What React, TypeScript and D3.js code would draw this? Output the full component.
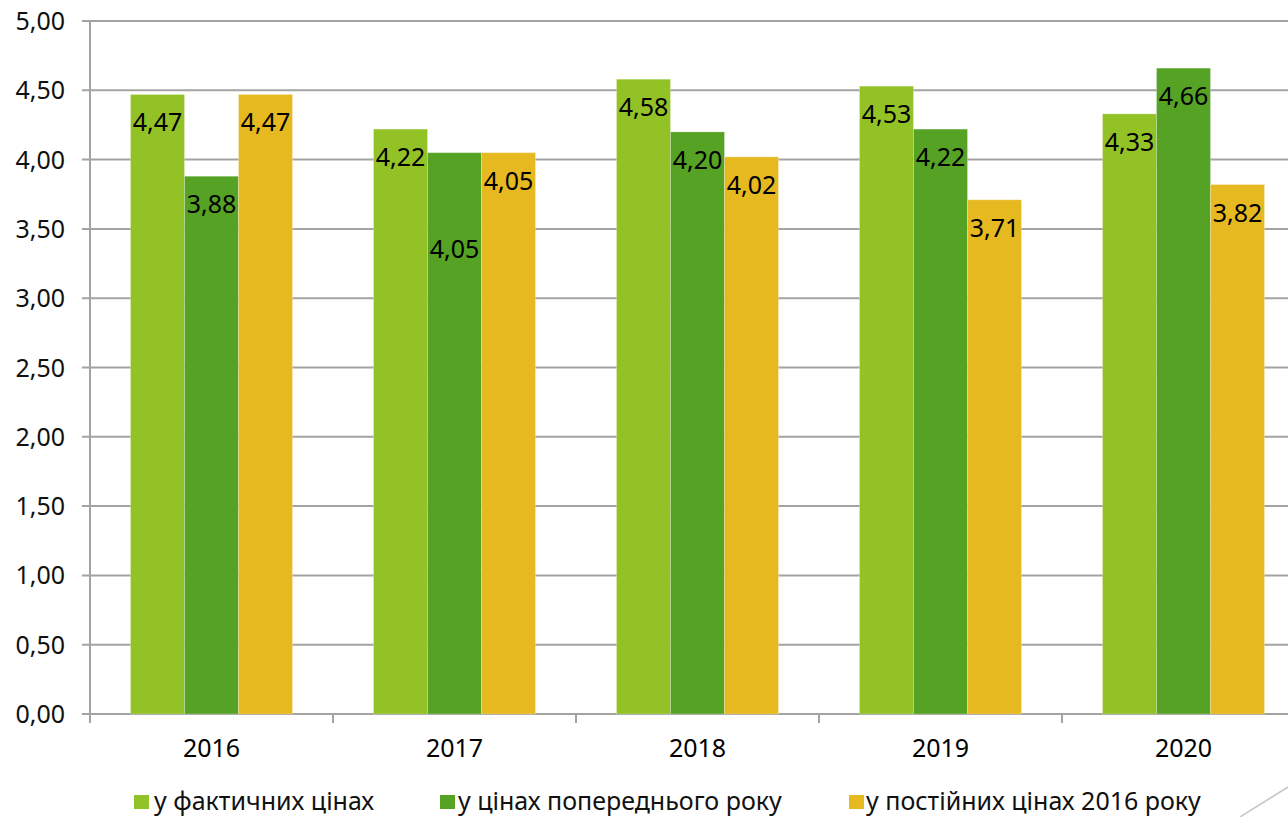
import React from "react";
import * as d3 from "d3";

// Annual values by price basis
const years = ["2016", "2017", "2018", "2019", "2020"];
const seriesNames = [
  "у фактичних цінах",
  "у цінах попереднього року",
  "у постійних цінах 2016 року",
];
const actualPrices = [4.47, 4.22, 4.58, 4.53, 4.33];
const previousYearPrices = [3.88, 4.05, 4.2, 4.22, 4.66];
const constant2016Prices = [4.47, 4.05, 4.02, 3.71, 3.82];
const yTicks = [0, 0.5, 1, 1.5, 2, 2.5, 3, 3.5, 4, 4.5, 5];

const seriesValues = [actualPrices, previousYearPrices, constant2016Prices];
const seriesColors = ["#93C227", "#55A224", "#E6B920"];

const W = 1288;
const H = 817;
const FONT = "'Noto Sans', sans-serif";

export default function App() {
  const plotLeft = 90;
  const plotTop = 21;
  const plotBottom = 714;
  const band = 243;

  // the plot area runs slightly past the right edge of the canvas
  const x = d3
    .scaleBand<string>()
    .domain(years)
    .range([plotLeft, plotLeft + band * years.length])
    .paddingInner(0)
    .paddingOuter(0);

  const y = d3.scaleLinear().domain([0, 5]).range([plotBottom, plotTop]);

  // clustered bars with a gap of 150% of one bar width
  const barW = x.bandwidth() / (seriesValues.length + 1.5);
  const groupOffset = (x.bandwidth() - barW * seriesValues.length) / 2;
  const inner = d3
    .scaleBand<number>()
    .domain(d3.range(seriesValues.length))
    .range([groupOffset, groupOffset + barW * seriesValues.length]);

  const fmt = (v: number) => v.toFixed(2).replace(".", ",");
  const labelDrop = 28;
  // one label in 2017 sits lower inside its bar
  const loweredLabel = { year: "2017", series: 1, extra: 68 };

  const gridColor = "#A3A3A3";

  const legendItems = [
    { sq: 134, tx: 154 },
    { sq: 440, tx: 458 },
    { sq: 849, tx: 866 },
  ];

  return (
    <svg
      width={W}
      height={H}
      style={{ position: "absolute", left: 0, top: 0, background: "#fff" }}
      fontFamily={FONT}
    >
      {/* gridlines and y ticks */}
      {yTicks.map((t) => (
        <g key={t}>
          <line
            x1={plotLeft - 8}
            x2={W}
            y1={y(t)}
            y2={y(t)}
            stroke={gridColor}
            strokeWidth={2}
          />
          <text
            x={65}
            y={y(t)}
            dy="0.36em"
            textAnchor="end"
            fontSize={25}
            fill="#111"
          >
            {fmt(t)}
          </text>
        </g>
      ))}
      {/* y axis */}
      <line
        x1={plotLeft}
        x2={plotLeft}
        y1={plotTop}
        y2={plotBottom + 9}
        stroke={gridColor}
        strokeWidth={2}
      />
      {/* category ticks */}
      {years.map((yr) => (
        <line
          key={"t" + yr}
          x1={(x(yr) as number) + band}
          x2={(x(yr) as number) + band}
          y1={plotBottom}
          y2={plotBottom + 9}
          stroke={gridColor}
          strokeWidth={2}
        />
      ))}
      {/* bars */}
      {seriesValues.map((vals, si) =>
        years.map((yr, i) => {
          const bx = (x(yr) as number) + (inner(si) as number);
          const by = y(vals[i]);
          return (
            <rect
              key={si + "-" + yr}
              x={bx}
              y={by}
              width={inner.bandwidth()}
              height={plotBottom - by}
              fill={seriesColors[si]}
              stroke="rgba(255,255,255,0.25)"
              strokeWidth={1}
            />
          );
        })
      )}
      {/* value labels */}
      {seriesValues.map((vals, si) =>
        years.map((yr, i) => {
          const bx = (x(yr) as number) + (inner(si) as number) + inner.bandwidth() / 2;
          const extra =
            loweredLabel.year === yr && loweredLabel.series === si
              ? loweredLabel.extra
              : 0;
          return (
            <text
              key={"l" + si + "-" + yr}
              x={bx}
              y={y(vals[i]) + labelDrop + extra}
              dy="0.36em"
              textAnchor="middle"
              fontSize={25}
              fill="#000"
            >
              {fmt(vals[i])}
            </text>
          );
        })
      )}
      {/* x labels */}
      {years.map((yr) => (
        <text
          key={"x" + yr}
          x={(x(yr) as number) + band / 2}
          y={757}
          textAnchor="middle"
          fontSize={25}
          fill="#000"
        >
          {yr}
        </text>
      ))}
      {/* legend */}
      {seriesNames.map((name, si) => (
        <g key={"lg" + si}>
          <rect
            x={legendItems[si].sq}
            y={795}
            width={15}
            height={14}
            fill={seriesColors[si]}
          />
          <text x={legendItems[si].tx} y={810} fontSize={25} fill="#111">
            {name}
          </text>
        </g>
      ))}
      {/* slide corner ornament */}
      <line x1={1240} y1={H} x2={W} y2={787} stroke="#C8C8C8" strokeWidth={1.5} />
    </svg>
  );
}
